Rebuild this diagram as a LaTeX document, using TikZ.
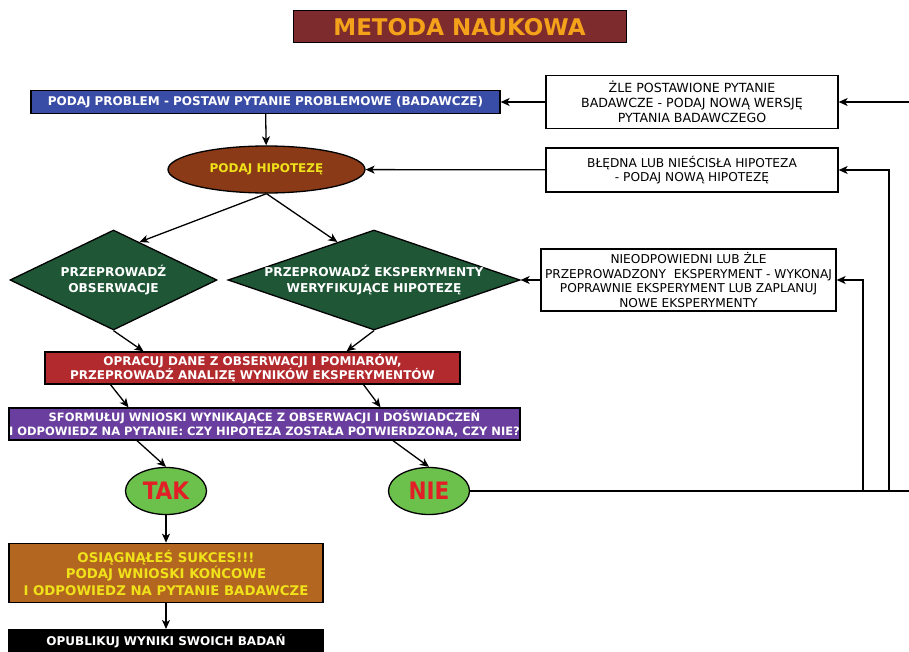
\documentclass[tikz,border=0pt]{standalone}
\usepackage{fontspec}
\setmainfont{DejaVu Sans}
\newfontfamily\condfont{DejaVu Sans Condensed}
\usepackage{xcolor}
\usepackage{tikz}
\usetikzlibrary{positioning,shapes.geometric,arrows.meta,calc}
\definecolor{titlebg}{HTML}{7E2B2D}
\definecolor{titlefg}{HTML}{F5A21B}
\definecolor{problembg}{HTML}{3A4DA6}
\definecolor{hipbg}{HTML}{8A3A17}
\definecolor{yellowfg}{HTML}{F0E21A}
\definecolor{actionbg}{HTML}{1E5636}
\definecolor{databg}{HTML}{B2292E}
\definecolor{conclbg}{HTML}{6A3E9F}
\definecolor{answerbg}{HTML}{6CC04C}
\definecolor{answerfg}{HTML}{E21E26}
\definecolor{successbg}{HTML}{B3661F}

\begin{document}
\begin{tikzpicture}[
        x=1pt, y=-1pt,
        node distance=27pt,
        every node/.style={
            draw=black,
            line width=1.3pt,
            align=center,
            inner sep=0pt
        },
        colorbox/.style={
            rectangle,
            text=white,
            font=\bfseries\fontsize{12}{14}\selectfont
        },
        errbox/.style={
            rectangle,
            fill=white,
            font=\fontsize{12.2}{14.8}\selectfont
        },
        action/.style={
            diamond,
            fill=actionbg,
            text=white,
            inner sep=-4pt,
            font=\bfseries\fontsize{12.2}{16.5}\selectfont
        },
        answer/.style={
            ellipse,
            fill=answerbg,
            text=answerfg,
            minimum width=81pt,
            minimum height=47pt,
            font=\condfont\bfseries\fontsize{24}{26}\selectfont
        },
        arrow/.style={
            -{Stealth[length=9pt,width=8pt,inset=2.5pt]},
            line width=1.3pt
        },
        link/.style={
            line width=1.3pt
        }
    ]
        \useasboundingbox (0,0) rectangle (909,652);

        \node[rectangle, fill=titlebg, text=titlefg, minimum width=333pt, minimum height=32pt,
              line width=1pt, font=\bfseries\fontsize{23}{26}\selectfont] (title) at (459.5,27) {METODA NAUKOWA};

        % main path on the left
        \node[colorbox, fill=problembg, minimum width=469pt, minimum height=23pt] (problem) at (265.5,102)
            {PODAJ PROBLEM - POSTAW PYTANIE PROBLEMOWE (BADAWCZE)};
        \node[ellipse, fill=hipbg, text=yellowfg, minimum width=197pt, minimum height=47pt,
              font=\bfseries\fontsize{12}{14}\selectfont] (hip) at (266.5,169.5) {PODAJ HIPOTEZĘ};
        \node[action, shape aspect=2.07, minimum width=207pt, minimum height=100pt] (obs) at (113.5,280)
            {PRZEPROWADŹ\\OBSERWACJE};
        \node[action, shape aspect=2.92, minimum width=292pt, minimum height=100pt] (exp) at (374,280)
            {PRZEPROWADŹ EKSPERYMENTY\\WERYFIKUJĄCE HIPOTEZĘ};
        \node[colorbox, fill=databg, minimum width=415pt, minimum height=32pt] (data) at (252.5,368)
            {OPRACUJ DANE Z OBSERWACJI I POMIARÓW,\\PRZEPROWADŹ ANALIZĘ WYNIKÓW EKSPERYMENTÓW};
        \node[colorbox, fill=conclbg, minimum width=511pt, minimum height=32pt,
              font=\bfseries\fontsize{11.5}{14}\selectfont] (concl) at (264.5,424)
            {SFORMUŁUJ WNIOSKI WYNIKAJĄCE Z OBSERWACJI I DOŚWIADCZEŃ\\I ODPOWIEDZ NA PYTANIE: CZY HIPOTEZA ZOSTAŁA POTWIERDZONA, CZY NIE?};
        \node[answer] (tak) at (166,491) {TAK};
        \node[answer] (nie) at (429,491) {NIE};
        \node[colorbox, fill=successbg, text=yellowfg, minimum width=314pt, minimum height=59pt,
              font=\bfseries\fontsize{13.3}{16.7}\selectfont] (success) [below=27.5pt of tak]
            {OSIĄGNĄŁEŚ SUKCES!!!\\PODAJ WNIOSKI KOŃCOWE\\I ODPOWIEDZ NA PYTANIE BADAWCZE};
        \node[colorbox, fill=black, minimum width=314pt, minimum height=24pt] (publish) [below=26pt of success]
            {OPUBLIKUJ WYNIKI SWOICH BADAŃ};

        % corrections on the right
        \node[errbox, minimum width=292pt, minimum height=53pt,
              font=\fontsize{12.6}{15.3}\selectfont] (err1) at (692,102)
            {ŻLE POSTAWIONE PYTANIE\\BADAWCZE - PODAJ NOWĄ WERSJĘ\\PYTANIA BADAWCZEGO};
        \node[errbox, minimum width=292pt, minimum height=44pt] (err2) at (692,170)
            {BŁĘDNA LUB NIEŚCISŁA HIPOTEZA\\- PODAJ NOWĄ HIPOTEZĘ};
        \node[errbox, minimum width=295pt, minimum height=62pt] (err3) at (688.5,280)
            {NIEODPOWIEDNI LUB ŻLE\\PRZEPROWADZONY\ \ EKSPERYMENT - WYKONAJ\\POPRAWNIE EKSPERYMENT LUB ZAPLANUJ\\NOWE EKSPERYMENTY};

        \draw[arrow] (problem) -- (hip);
        \draw[arrow] (hip.south) -- ($(obs.north)!0.25!(obs.east)$);
        \draw[arrow] (hip.south) -- ($(exp.north)!0.25!(exp.west)$);
        \draw[arrow] (obs.south) -- ([xshift=-109pt]data.north);
        \draw[arrow] (exp.south) -- ([xshift=94pt]data.north);
        \draw[arrow] ([xshift=-142pt]data.south) -- ([xshift=-136pt]concl.north);
        \draw[arrow] ([xshift=111pt]data.south) -- ([xshift=116pt]concl.north);
        \draw[arrow] ([xshift=-127.5pt]concl.south) -- (tak.north);
        \draw[arrow] ([xshift=128.5pt]concl.south) -- (nie.north);
        \draw[arrow] (tak) -- (success);
        \draw[arrow] (success) -- (publish);

        % feedback from NIE
        \coordinate (bus) at (909,491);
        \coordinate (up3) at (863,491);
        \coordinate (up2) at (889,491);
        \coordinate (up1) at (909,102);
        \draw[link] (nie) -- (bus);
        \draw[arrow] (up3) |- (err3);
        \draw[arrow] (up2) |- (err2);
        \draw[arrow] (up1) -- (err1);
        \draw[arrow] (err1) -- (problem);
        \draw[arrow] (err2) -- (hip);
        \draw[arrow] (err3) -- (exp);
    \end{tikzpicture}
\end{document}
